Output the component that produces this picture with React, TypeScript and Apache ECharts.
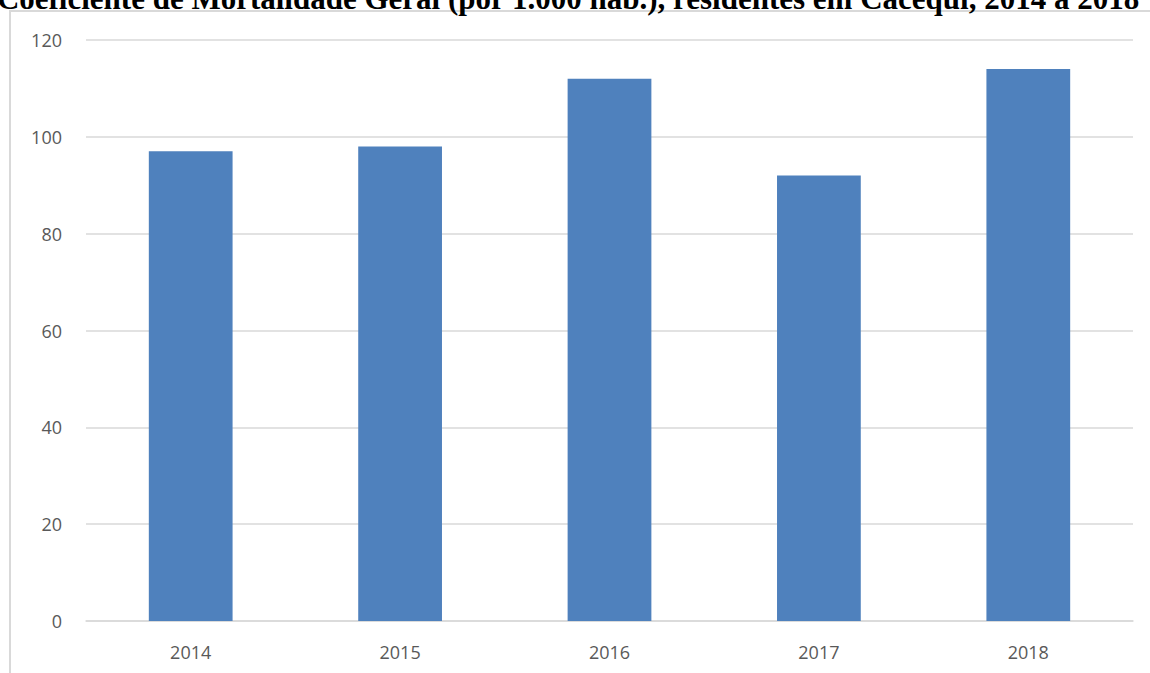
import React, { useEffect, useRef } from "react";
import * as echarts from "echarts";

const titleText = "Coeficiente de Mortalidade Geral (por 1.000 hab.), residentes em Cacequi, 2014 a 2018";
const categories = ["2014", "2015", "2016", "2017", "2018"];
const values = [97, 98, 112, 92, 114];
const yMin = 0;
const yMax = 120;
const yInterval = 20;

export default function App() {
  const ref = useRef<HTMLDivElement>(null);
  useEffect(() => {
    document.body.style.margin = "0";
    const chart = echarts.init(ref.current!, null, { renderer: "svg" });
    chart.setOption({
      animation: false,
      backgroundColor: "#ffffff",
      grid: { left: 86, right: 17, top: 40, bottom: 52, containLabel: false },
      xAxis: {
        type: "category",
        data: categories,
        axisLine: { show: true, lineStyle: { color: "#d9d9d9", width: 1.5 } },
        axisTick: { show: false },
        axisLabel: { color: "#595959", fontSize: 18, fontFamily: "Open Sans", margin: 22 },
      },
      yAxis: {
        type: "value",
        min: yMin,
        max: yMax,
        interval: yInterval,
        axisLine: { show: false },
        axisTick: { show: false },
        splitLine: { lineStyle: { color: "#d9d9d9", width: 1.5 } },
        axisLabel: { color: "#595959", fontSize: 18, fontFamily: "Open Sans", margin: 24 },
      },
      series: [
        {
          type: "bar",
          data: values,
          barWidth: "40%",
          itemStyle: { color: "#4f81bd" },
        },
      ],
      graphic: [
        {
          type: "line",
          shape: { x1: 10, y1: 11, x2: 10, y2: 673 },
          style: { stroke: "#d9d9d9", lineWidth: 2 },
          z: 10,
        },
        {
          type: "line",
          shape: { x1: 9, y1: 11, x2: 1150, y2: 11 },
          style: { stroke: "#d9d9d9", lineWidth: 2 },
          z: 10,
        },
        {
          type: "text",
          x: 568,
          y: 14,
          style: {
            text: titleText,
            fill: "#000000",
            font: "bold 31px 'Liberation Serif', 'Times New Roman', serif",
            textAlign: "center",
            textVerticalAlign: "bottom",
          },
          z: 11,
        },
      ],
    });
    return () => chart.dispose();
  }, []);
  return (
    <div
      ref={ref}
      style={{ position: "fixed", left: 0, top: 0, width: 1150, height: 673 }}
    />
  );
}
